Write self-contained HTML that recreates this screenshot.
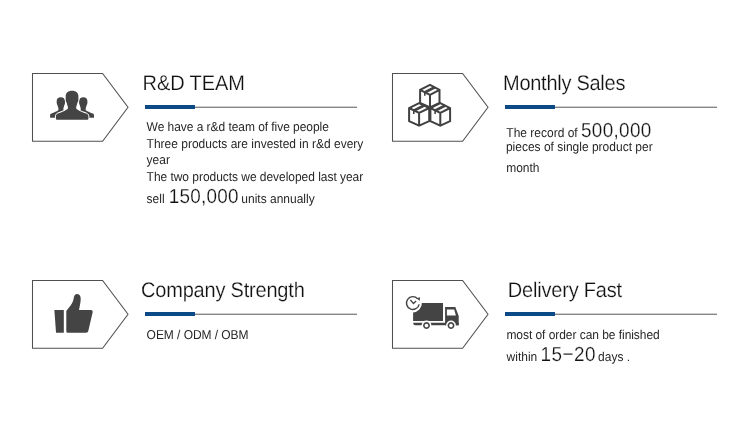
<!DOCTYPE html>
<html>
<head>
<meta charset="utf-8">
<title>Company advantages</title>
<style>
html,body{margin:0;padding:0;background:#fff;}
body{width:750px;height:427px;position:relative;overflow:hidden;font-family:"Liberation Sans",Arial,sans-serif;color:#222;}
.t{position:absolute;white-space:nowrap;line-height:1;font-size:12px;color:#262626;letter-spacing:0;text-rendering:geometricPrecision;transform:scaleY(1.075);transform-origin:0 10px;}
.h{position:absolute;white-space:nowrap;line-height:1;font-size:20px;letter-spacing:-0.2px;color:#111;-webkit-text-stroke:0.2px #fff;text-rendering:geometricPrecision;transform:scaleY(1.06);transform-origin:0 17px;}
.big{font-size:18.9px;line-height:0;color:#111;letter-spacing:0.25px;-webkit-text-stroke:0.2px #fff;margin-left:0;}
.bar{position:absolute;width:50px;height:4px;background:#0b4a86;}
.ln{position:absolute;height:1px;background:#868686;}
.ln2{position:absolute;height:1px;background:#cfcfcf;}
svg{position:absolute;left:0;top:0;}
</style>
</head>
<body>
<svg width="750" height="427" viewBox="0 0 750 427">
  <defs>
    <path id="pent" d="M32.5 73.5 H102.6 L128 107.3 L102.6 141.2 H32.5 Z" fill="#fff" stroke="#505050" stroke-width="1.05"/>
  </defs>
  <use href="#pent"/>
  <use href="#pent" x="360"/>
  <use href="#pent" y="207"/>
  <use href="#pent" x="360" y="207"/>

  <!-- people icon -->
  <g fill="#444">
    <path id="sidep" d="M60.8 97.3 C63.4 97.3 65 98.7 65 101 L65 103 C65 104 64.6 104.8 64.2 105.4 C64 106.6 63.7 107.4 63.4 108 L63.4 110 L67 112 L67 117.8 L50.1 117.8 L50.1 115.2 C50.1 114.5 50.5 114 51.4 113.6 C54 112.5 57.4 111.3 58.4 110 L58.4 108 C58.1 107.4 57.8 106.6 57.6 105.4 C57.2 104.8 56.7 104 56.7 103 L56.7 101 C56.7 98.7 58.2 97.3 60.8 97.3 Z"/>
    <use href="#sidep" transform="translate(144.1 0) scale(-1 1)"/>
    <path d="M72.05 90.7 C76 90.7 78.4 92.8 78.4 96.2 L78.4 99.5 C78.4 101 77.9 102 77.3 102.9 C77 104.6 76.6 105.7 76.2 106.4 L76.2 108.5 C77.6 110.4 82.1 112 86.1 113.6 C87.9 114.4 88.4 115.2 88.4 116.5 L88.4 118.7 Q88.4 119.7 87.4 119.7 L56.9 119.7 Q55.9 119.7 55.9 118.7 L55.9 116.5 C55.9 115.2 56.4 114.4 57.9 113.6 C61.9 112 66.5 110.4 67.9 108.5 L67.9 106.4 C67.5 105.7 67.1 104.6 66.8 102.9 C66.2 102 65.7 101 65.7 99.5 L65.7 96.2 C65.7 92.8 68.1 90.7 72.05 90.7 Z" stroke="#fff" stroke-width="2" paint-order="stroke"/>
  </g>
  <!-- boxes icon -->
  <g>
<path d="M430.0 84.9 L439.5 89.8 L439.5 102.9 L430.0 107.4 L420.1 102.9 L420.1 89.8 Z M420.1 89.8 L430.0 94.8 L439.5 89.8 M430.0 94.8 L430.0 107.4" fill="none" stroke="#414141" stroke-width="2" stroke-linejoin="miter"/><path d="M425.1 92.3 L434.8 87.3" fill="none" stroke="#444" stroke-width="2.7"/><path d="M424.8 92.6 v3.2" fill="none" stroke="#444" stroke-width="1.6"/><path d="M419.1 103.1 L429.2 108.0 L429.2 121.1 L419.1 125.6 L409.1 121.1 L409.1 108.0 Z M409.1 108.0 L419.1 113.0 L429.2 108.0 M419.1 113.0 L419.1 125.6" fill="none" stroke="#414141" stroke-width="2" stroke-linejoin="miter"/><path d="M414.1 110.5 L424.1 105.5" fill="none" stroke="#444" stroke-width="2.7"/><path d="M413.8 110.8 v3.2" fill="none" stroke="#444" stroke-width="1.6"/><path d="M440.3 103.1 L450.1 108.0 L450.1 121.1 L440.3 125.6 L430.4 121.1 L430.4 108.0 Z M430.4 108.0 L440.3 113.0 L450.1 108.0 M440.3 113.0 L440.3 125.6" fill="none" stroke="#414141" stroke-width="2" stroke-linejoin="miter"/><path d="M435.4 110.5 L445.2 105.5" fill="none" stroke="#444" stroke-width="2.7"/><path d="M435.1 110.8 v3.2" fill="none" stroke="#444" stroke-width="1.6"/>
  </g>
  <!-- thumbs up -->
  <g fill="#444">
    <path d="M54.9 310.1 L63.3 310.1 Q63.8 310.1 63.8 310.6 L63.8 332.2 Q63.8 332.7 63.3 332.7 L56.6 332.7 Q56.1 332.7 56 332.2 L54.4 310.6 Q54.4 310.1 54.9 310.1 Z"/>
    <path d="M66.3 331.2 L66.3 311 C68.3 308.3 72 305 73.5 299.5 C74 297 74.4 294.1 76.9 294.1 C79.4 294.1 80.7 296 80.7 298.5 C80.7 302 79.8 306 79 310.1 L91 310.1 Q92.9 310.1 92.7 312 L88.3 331 Q87.9 332.7 86.2 332.7 L67.8 332.7 Q66.3 332.7 66.3 331.2 Z"/>
  </g>
  <!-- truck -->
  <g fill="#444">
    <path d="M421.9 303.1 L443 303.1 L443 320.9 L413.1 320.9 L413.1 312.4 A9.3 9.3 0 0 0 421.9 303.1 Z"/>
    <path d="M413.1 322.8 L458.7 322.8 L458.7 325.3 L415 325.3 Q413.2 325 413.1 322.8 Z"/>
    <path d="M445.1 307.1 L455.3 307.1 L458.7 316.1 L458.7 325.3 L445.1 325.3 Z M446.9 309.4 L446.9 315.4 L455.9 315.4 L454.2 309.4 Z" fill-rule="evenodd"/>
    <circle cx="426.5" cy="325.5" r="4.9" fill="#fff"/>
    <circle cx="451" cy="325.5" r="4.9" fill="#fff"/>
    <path d="M426.5 322.05 a3.45 3.45 0 1 0 0.01 0 Z M426.5 323.7 a1.8 1.8 0 1 1 -0.01 0 Z" fill-rule="evenodd"/>
    <path d="M451 322.05 a3.45 3.45 0 1 0 0.01 0 Z M451 323.7 a1.8 1.8 0 1 1 -0.01 0 Z" fill-rule="evenodd"/>
    <path d="M419.15 304.3 A6.4 6.4 0 1 1 417.6 298.7" fill="none" stroke="#444" stroke-width="1.45"/>
    <path d="M416.7 298.3 L420 297.2 L419.7 300.9 Z"/>
    <path d="M410.3 299.9 L413.5 303.5 L416.1 301" fill="none" stroke="#444" stroke-width="1.4"/>
  </g>
</svg>

<div class="h" style="left:142.6px;top:74px;letter-spacing:-0.1px;">R&amp;D TEAM</div>
<div class="bar" style="left:145px;top:105px;"></div>
<div class="ln2" style="left:195px;top:106px;width:162px;"></div>
<div class="ln" style="left:195px;top:107px;width:162px;"></div>
<div class="t" style="left:146.6px;top:121px;letter-spacing:-0.05px;">We have a r&amp;d team of five people</div>
<div class="t" style="left:146.6px;top:138px;letter-spacing:0px;">Three products are invested in r&amp;d every</div>
<div class="t" style="left:146.6px;top:154px;">year</div>
<div class="t" style="left:146.6px;top:171px;letter-spacing:-0.04px;">The two products we developed last year</div>
<div class="t" style="left:146.6px;top:193px;">sell <span class="big" style="margin-left:0.8px;margin-right:-0.8px">150,000</span> units annually</div>

<div class="h" style="left:503px;top:74px;letter-spacing:-0.27px;">Monthly Sales</div>
<div class="bar" style="left:505px;top:105px;"></div>
<div class="ln2" style="left:555px;top:106px;width:162px;"></div>
<div class="ln" style="left:555px;top:107px;width:162px;"></div>
<div class="t" style="left:506.3px;top:127px;">The record of <span class="big" style="letter-spacing:0.33px">500,000</span></div>
<div class="t" style="left:505.9px;top:141px;">pieces of single product per</div>
<div class="t" style="left:506.2px;top:162px;">month</div>

<div class="h" style="left:141px;top:281px;">Company Strength</div>
<div class="bar" style="left:145px;top:312px;"></div>
<div class="ln2" style="left:195px;top:313px;width:162px;"></div>
<div class="ln" style="left:195px;top:314px;width:162px;"></div>
<div class="t" style="left:146.6px;top:329px;letter-spacing:-0.05px;">OEM / ODM / OBM</div>

<div class="h" style="left:507.8px;top:281px;">Delivery Fast</div>
<div class="bar" style="left:505px;top:312px;"></div>
<div class="ln2" style="left:555px;top:313px;width:162px;"></div>
<div class="ln" style="left:555px;top:314px;width:162px;"></div>
<div class="t" style="left:506.4px;top:329px;letter-spacing:-0.05px;">most of order can be finished</div>
<div class="t" style="left:506.6px;top:351px;">within <span class="big" style="letter-spacing:0.45px;margin-right:-1.2px">15−20</span> days .</div>
</body>
</html>
